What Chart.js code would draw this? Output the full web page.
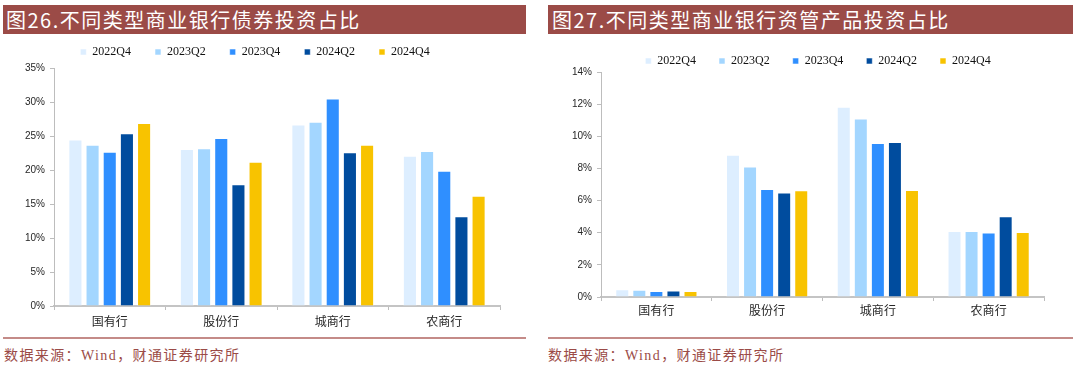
<!DOCTYPE html>
<html><head><meta charset="utf-8">
<script src="https://cdn.jsdelivr.net/npm/chart.js@4.4.1/dist/chart.umd.min.js"></script>
<style>
html,body{margin:0;padding:0;background:#fff;width:1080px;height:370px;overflow:hidden;position:relative;font-family:"Noto Sans CJK SC",sans-serif}
.banner{position:absolute;top:5px;height:29px;background:#9B4B47;color:#fff;font-size:20px;letter-spacing:1.5px;line-height:29px;padding-left:3px;box-sizing:border-box;z-index:2;white-space:nowrap;font-family:"Noto Sans CJK SC",sans-serif}
.rule{position:absolute;top:337px;height:2px;background:#C48B88}
.src{position:absolute;top:347px;font-size:14px;letter-spacing:1.4px;color:#9B4B47;font-family:"Liberation Serif","Noto Sans CJK SC",serif;line-height:18px;white-space:nowrap}
.wrap{position:absolute;z-index:1}
canvas{display:block}
</style></head>
<body>
<div class="banner" style="left:3px;width:523px">图26.不同类型商业银行债券投资占比</div>
<div class="banner" style="left:548px;width:525px;padding-left:4px">图27.不同类型商业银行资管产品投资占比</div>
<div class="wrap" style="left:0;top:22px"><canvas id="c1" width="540" height="308"></canvas></div>
<div class="wrap" style="left:540px;top:32px"><canvas id="c2" width="540" height="287"></canvas></div>
<div class="rule" style="left:3px;width:523px"></div>
<div class="rule" style="left:548px;width:525px"></div>
<div class="src" style="left:4px">数据来源：Wind，财通证券研究所</div>
<div class="src" style="left:548px">数据来源：Wind，财通证券研究所</div>
<script>
const categories = ['国有行', '股份行', '城商行', '农商行'];
const seriesNames = ['2022Q4', '2023Q2', '2023Q4', '2024Q2', '2024Q4'];
const seriesColors = ['#DDEEFF', '#A3D6FF', '#2F8FFF', '#004C9E', '#F8C300'];

// 图26 债券投资占比 (%)
const bond2022Q4 = [24.5, 23.1, 26.7, 22.1];
const bond2023Q2 = [23.7, 23.2, 27.1, 22.8];
const bond2023Q4 = [22.7, 24.7, 30.5, 19.9];
const bond2024Q2 = [25.4, 17.9, 22.6, 13.2];
const bond2024Q4 = [26.9, 21.2, 23.7, 16.2];
const bondTicks = [0, 5, 10, 15, 20, 25, 30, 35];

// 图27 资管产品投资占比 (%)
const am2022Q4 = [0.48, 8.85, 11.84, 4.10];
const am2023Q2 = [0.45, 8.12, 11.10, 4.10];
const am2023Q4 = [0.37, 6.72, 9.59, 4.02];
const am2024Q2 = [0.40, 6.50, 9.65, 5.03];
const am2024Q4 = [0.38, 6.64, 6.66, 4.04];
const amTicks = [0, 2, 4, 6, 8, 10, 12, 14];

function makeDatasets(arrs) {
  return arrs.map((d, i) => ({
    label: seriesNames[i],
    data: d,
    backgroundColor: seriesColors[i],
    borderColor: 'rgba(255,255,255,0.55)',
    borderWidth: 1,
    categoryPercentage: 0.77,
    barPercentage: 0.82
  }));
}

// shift the legend horizontally after layout (legend stays drawn by Chart.js)
const legendShift = {
  id: 'legendShift',
  afterLayout(chart, args, opts) {
    const lg = chart.legend;
    if (lg && opts.dx) { lg.left += opts.dx; lg.right += opts.dx; }
  }
};

function makeChart(id, arrs, ticks, cfg) {
  const tickMax = ticks[ticks.length - 1];
  const step = ticks[1] - ticks[0];
  return new Chart(document.getElementById(id), {
    type: 'bar',
    data: { labels: categories, datasets: makeDatasets(arrs) },
    plugins: [legendShift],
    options: {
      responsive: false,
      animation: false,
      devicePixelRatio: 1,
      layout: { padding: { left: 0, right: cfg.padR, top: 0, bottom: 0 } },
      plugins: {
        tooltip: { enabled: false },
        legendShift: { dx: cfg.legendDx },
        legend: {
          position: 'top',
          maxHeight: cfg.legendH,
          labels: {
            boxWidth: 6, boxHeight: 6, padding: cfg.legendPad,
            color: '#111',
            font: { family: '"Liberation Serif", "Times New Roman", serif', size: 12 }
          }
        }
      },
      scales: {
        x: {
          afterFit: s => { s.height = cfg.xH; },
          border: { display: true, color: '#C4C4C4', width: 2 },
          grid: { display: true, drawOnChartArea: false, drawTicks: true, tickLength: 4, color: '#BDBDBD', offset: true },
          ticks: { color: '#262626', padding: cfg.xPad, font: { family: '"Noto Sans CJK SC", sans-serif', size: 12 } }
        },
        y: {
          min: 0, max: tickMax,
          afterFit: s => { s.width = cfg.yW; },
          border: { display: true, color: '#BDBDBD', width: 1 },
          grid: { display: true, drawOnChartArea: false, drawTicks: true, tickLength: 4, color: '#BDBDBD' },
          ticks: {
            stepSize: step, padding: 5, color: '#262626',
            font: { family: '"Liberation Sans", Arial, sans-serif', size: 10 },
            callback: v => v + '%'
          }
        }
      }
    }
  });
}

makeChart('c1', [bond2022Q4, bond2023Q2, bond2023Q4, bond2024Q2, bond2024Q4], bondTicks,
  { padR: 40, legendH: 60, legendPad: 24, yW: 54, xH: 24, xPad: 4, legendDx: 5 });
makeChart('c2', [am2022Q4, am2023Q2, am2023Q4, am2024Q2, am2024Q4], amTicks,
  { padR: 36, legendH: 40, legendPad: 23, yW: 61, xH: 22, xPad: 2, legendDx: 26 });
</script>
</body></html>
